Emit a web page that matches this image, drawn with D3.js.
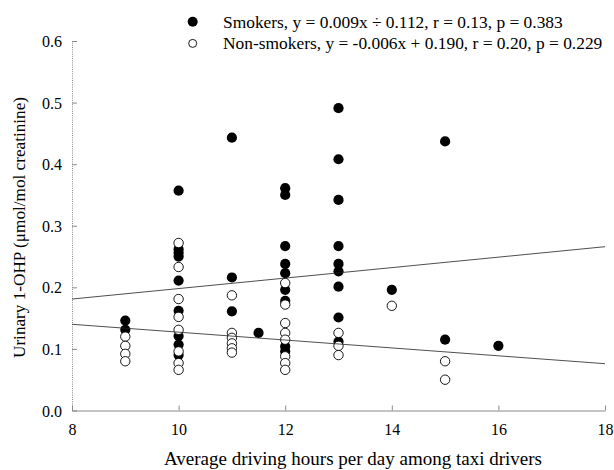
<!DOCTYPE html>
<html>
<head>
<meta charset="utf-8">
<script src="https://cdn.jsdelivr.net/npm/d3@7"></script>
<style>
  body { margin: 0; background: #fff; }
  svg { display: block; }
</style>
</head>
<body>
<svg id="chart" width="614" height="470"></svg>
<script>
// driving hours (x) and urinary 1-OHP (y)
const smokerX = [9, 9,
  10, 10, 10, 10, 10, 10, 10, 10, 10,
  11, 11, 11, 11.5,
  12, 12, 12, 12, 12, 12, 12, 12, 12,
  13, 13, 13, 13, 13, 13, 13, 13, 13,
  14, 15, 15, 16];
const smokerY = [0.146, 0.131,
  0.357, 0.262, 0.256, 0.250, 0.211, 0.162, 0.121, 0.107, 0.090,
  0.443, 0.216, 0.161, 0.126,
  0.361, 0.350, 0.267, 0.238, 0.223, 0.196, 0.178, 0.104, 0.096,
  0.491, 0.408, 0.342, 0.267, 0.238, 0.226, 0.201, 0.151, 0.112,
  0.196, 0.437, 0.115, 0.105];

const nonSmokerX = [9, 9, 9, 9,
  10, 10, 10, 10, 10, 10, 10, 10,
  11, 11, 11, 11, 11, 11,
  12, 12, 12, 12, 12, 12, 12, 12,
  13, 13, 13,
  14, 15, 15];
const nonSmokerY = [0.120, 0.105, 0.092, 0.080,
  0.272, 0.233, 0.181, 0.152, 0.131, 0.096, 0.077, 0.066,
  0.187, 0.126, 0.118, 0.109, 0.101, 0.094,
  0.207, 0.172, 0.142, 0.126, 0.115, 0.088, 0.077, 0.066,
  0.126, 0.105, 0.090,
  0.170, 0.080, 0.050];

// fitted lines as drawn: [value at x=8, value at x=18]
const smokerFit = [0.181, 0.266];
const nonSmokerFit = [0.140, 0.076];

const xTicks = [8, 10, 12, 14, 16, 18];
const yTicks = [0.0, 0.1, 0.2, 0.3, 0.4, 0.5, 0.6];
const legendLabels = [
  'Smokers, y = 0.009x ÷ 0.112, r = 0.13, p = 0.383',
  'Non-smokers, y = -0.006x + 0.190, r = 0.20, p = 0.229'
];
const xTitle = 'Average driving hours per day among taxi drivers';
const yTitle = 'Urinary 1-OHP (μmol/mol creatinine)';

const style = {
  fontFamily: '"Liberation Serif", "Times New Roman", serif',
  tickTextSize: '16px',
  xTitleSize: '19px',
  yTitleSize: '17.2px',
  legendSize: '17.4px',
  axisColor: '#8a8a8a',
  filledR: 5.1,
  openR: 4.7,
}

const svg = d3.select('#chart');
const margin = { top: 41, left: 72, right: 9, bottom: 59.5 };
const W = +svg.attr('width'), H = +svg.attr('height');

const xScale = d3.scaleLinear().domain([8, 18]).range([margin.left, W - margin.right]);
const yScale = d3.scaleLinear().domain([0, 0.6]).range([H - margin.bottom, margin.top]);

function drawAxes() {
  const xAxis = d3.axisBottom(xScale).tickValues(xTicks).tickFormat(d3.format('d'))
    .tickSizeInner(-5).tickSizeOuter(0).tickPadding(13);
  const xSel = svg.append('g')
    .attr('transform', `translate(0, ${yScale(0)})`)
    .call(xAxis);
  xSel.select('.domain').attr('stroke', style.axisColor).attr('stroke-width', 1.2);
  xSel.selectAll('.tick line').attr('stroke', style.axisColor);
  xSel.selectAll('.tick text')
    .attr('fill', '#000')
    .style('font-size', style.tickTextSize)
    .style('font-family', style.fontFamily);

  const yAxis = d3.axisLeft(yScale).tickValues(yTicks).tickFormat(d3.format('.1f'))
    .tickSizeInner(-5).tickSizeOuter(0).tickPadding(10);
  const ySel = svg.append('g')
    .attr('transform', `translate(${xScale(8)}, 0)`)
    .call(yAxis);
  ySel.select('.domain')
    .attr('stroke', style.axisColor)
    .attr('stroke-dasharray', '1,1.2');
  ySel.selectAll('.tick line').attr('stroke', style.axisColor);
  ySel.selectAll('.tick text')
    .attr('fill', '#000')
    .attr('dy', '0.35em')
    .style('font-size', style.tickTextSize)
    .style('font-family', style.fontFamily);

  svg.append('text')
    .attr('x', 353)
    .attr('y', 465)
    .attr('text-anchor', 'middle')
    .style('font-size', style.xTitleSize)
    .style('font-family', style.fontFamily)
    .text(xTitle);

  svg.append('text')
    .attr('transform', `translate(25, 227.5) rotate(-90)`)
    .attr('text-anchor', 'middle')
    .style('font-size', style.yTitleSize)
    .style('font-family', style.fontFamily)
    .text(yTitle);
}

function drawPoints() {
  const filled = smokerX.map((x, i) => ({ x, y: smokerY[i] }));
  const open = nonSmokerX.map((x, i) => ({ x, y: nonSmokerY[i] }));

  svg.append('g').selectAll('circle')
    .data(filled)
    .enter()
    .append('circle')
      .attr('cx', d => xScale(d.x))
      .attr('cy', d => yScale(d.y))
      .attr('r', style.filledR)
      .attr('fill', '#000');

  svg.append('g').selectAll('circle')
    .data(open)
    .enter()
    .append('circle')
      .attr('cx', d => xScale(d.x))
      .attr('cy', d => yScale(d.y))
      .attr('r', style.openR)
      .attr('fill', '#fff')
      .attr('stroke', '#000')
      .attr('stroke-width', 0.9);
}

function drawLines() {
  const lineGen = d3.line()
    .x(d => xScale(d[0]))
    .y(d => yScale(d[1]));
  [smokerFit, nonSmokerFit].forEach(fit => {
    svg.append('path')
      .attr('d', lineGen([[8, fit[0]], [18, fit[1]]]))
      .attr('fill', 'none')
      .attr('stroke', '#222')
      .attr('stroke-width', 0.8);
  });
}

function drawLegend() {
  const g = svg.append('g');
  legendLabels.forEach((label, i) => {
    const cy = 21.7 + i * 21.7;
    g.append('circle')
      .attr('cx', 192.7)
      .attr('cy', cy)
      .attr('r', i === 0 ? 5 : 4)
      .attr('fill', i === 0 ? '#000' : '#fff')
      .attr('stroke', '#000')
      .attr('stroke-width', i === 0 ? 0 : 0.9);
    g.append('text')
      .attr('x', 223)
      .attr('y', cy + 5.8)
      .style('font-size', style.legendSize)
      .style('font-family', style.fontFamily)
      .text(label);
  });
}

drawAxes();
drawPoints();
drawLines();
drawLegend();
</script>
</body>
</html>
